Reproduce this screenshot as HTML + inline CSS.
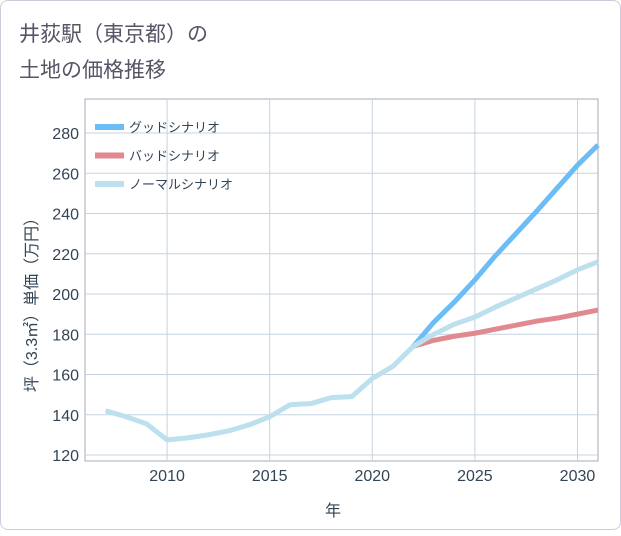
<!DOCTYPE html>
<html><head><meta charset="utf-8"><style>
body{margin:0;background:#fff;}
#card{position:absolute;left:0;top:0;width:619px;height:528px;border:1px solid #ccd;border-radius:8px;background:#fff;}
text{font-family:"Liberation Sans","Noto Sans CJK JP",sans-serif;}
</style></head><body>
<div id="card">
<svg id="chart" width="621" height="530">
<text x="18" y="40" font-size="21" fill="#556">井荻駅（東京都）の</text>
<text x="18" y="76" font-size="21" fill="#556">土地の価格推移</text>
<g id="grid"></g><g id="series"></g><g id="legend"></g>
<text x="332" y="515" font-size="16" fill="#345" text-anchor="middle">年</text>
<text transform="translate(36,300) rotate(-90)" font-size="16" fill="#345" text-anchor="middle">坪（3.3㎡）単価（万円）</text>
</svg></div>
<script>
const years=[2007,2008,2009,2010,2011,2012,2013,2014,2015,2016,2017,2018,2019,2020,2021,2022];
const hist=[142,139,135.5,127.5,128.5,130,132,135,139,145,145.5,148.5,149,158,164,174];
const fYears=[2022,2023,2024,2025,2026,2027,2028,2029,2030,2031];
const good=[174,186,196,207,219,230,241,252.5,264,274];
const bad=[174,177,179,180.5,182.5,184.5,186.5,188,190,192];
const normal=[174,180,185,188.5,193.5,198,202.5,207,212,216];
const xTicks=[2010,2015,2020,2025,2030];
const yTicks=[120,140,160,180,200,220,240,260,280];
const L=84,R=597,T=98,B=460;
const x=v=>L+(v-2006)*(R-L)/25;
const y=v=>454-(v-120)*2.0125;
const NS="http://www.w3.org/2000/svg";
function mk(t,a,p){const e=document.createElementNS(NS,t);for(const k in a)e.setAttribute(k,a[k]);p.appendChild(e);return e;}
const g=document.getElementById('grid');
mk('rect',{x:L,y:T,width:R-L,height:B-T,fill:'none',stroke:'#aab'},g);
for(let yr=2006;yr<=2031;yr++){const l=mk('line',{x1:x(yr),x2:x(yr),y1:T,y2:B,stroke:xTicks.includes(yr)?'#c5d3e0':'none'},g);

}
xTicks.forEach(t=>{const e=mk('text',{x:x(t),y:480,'font-size':16,fill:'#345','text-anchor':'middle'},g);e.textContent=t;

});
yTicks.forEach(t=>{const l=mk('line',{x1:L,x2:R,y1:y(t),y2:y(t),stroke:'#c5d3e0'},g);


const e=mk('text',{x:78,y:y(t)+6,'font-size':16,fill:'#345','text-anchor':'end'},g);e.textContent=t;

});
const s=document.getElementById('series');
function line(xs,vs,c,name){const p=mk('polyline',{points:xs.map((a,i)=>x(a)+','+y(vs[i])).join(' '),fill:'none',stroke:c,'stroke-width':5,'stroke-linejoin':'round'},s);

}
line(fYears,good,'#6cbdf5','good-scenario-line');
line(fYears,bad,'#e08a90','bad-scenario-line');
line(fYears,normal,'#bde0ee','normal-scenario-line');
line(years,hist,'#bde0ee','historical-line');
const lg=document.getElementById('legend');
[['グッドシナリオ','#6cbdf5'],['バッドシナリオ','#e08a90'],['ノーマルシナリオ','#bde0ee']].forEach((d,i)=>{
const yy=126+i*28.5;
const r=mk('rect',{x:94,y:yy-3,width:29,height:6,fill:d[1]},lg);


const t=mk('text',{x:128,y:yy+5,'font-size':13,fill:'#345'},lg);t.textContent=d[0];

});
</script></body></html>
